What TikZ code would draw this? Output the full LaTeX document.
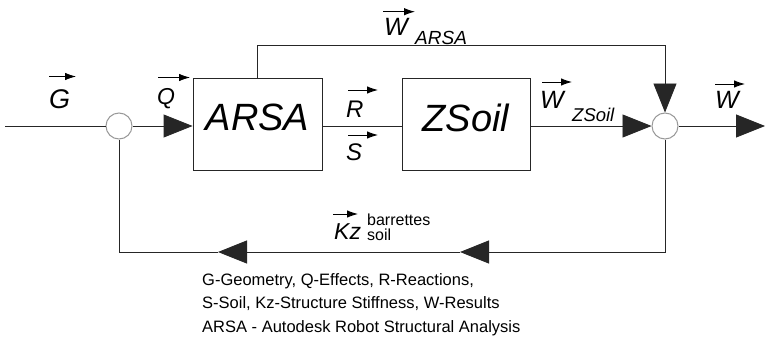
\documentclass[tikz,border=0pt]{standalone}
\usepackage{fontspec}
\setmainfont{Liberation Sans}
\usetikzlibrary{arrows.meta}
\newcommand{\fsz}[1]{\fontsize{#1}{#1}\selectfont}
\begin{document}
\begin{tikzpicture}[x=1pt,y=-1pt,
  line/.style={draw=black!85, line width=0.9pt},
  bigarrow/.style={line, -{Triangle[length=29pt,width=23pt]}},
  vec/.style={draw=black, line width=0.9pt, -{Latex[length=11pt,width=7.5pt]}},
  junction/.style={circle, draw=black!40, line width=1pt, fill=white, minimum size=26pt, inner sep=0pt},
  block/.style={draw=black!85, line width=0.9pt, minimum width=129pt, minimum height=92pt, text depth=13pt, inner sep=0pt, font=\fsz{38}\itshape},
  lbl/.style={inner sep=0pt, anchor=base west, font=\fsz{25}\itshape},
  sub/.style={inner sep=0pt, anchor=base west, font=\fsz{19}\itshape},
  small/.style={inner sep=0pt, anchor=base west, font=\fsz{16}},
  caption/.style={inner sep=0pt, anchor=base west, font=\fsz{16.5}}]

\useasboundingbox[fill=white] (0,0) rectangle (765,337);

% blocks and junctions
\node[junction] (sumL) at (119,126) {};
\node[block] (arsa) at (257.5,124) {ARSA};
\node[block, minimum width=128pt] (zsoil) at (466,124) {ZSoil};
\node[junction] (sumR) at (665,126) {};
\coordinate (in) at (5,126);
\coordinate (out) at (765,126);
\coordinate (m1) at (460,252);
\coordinate (m2) at (218,252);

% connectors
\draw[line] (in) -- (sumL.west);
\draw[bigarrow] (sumL.east) -- (sumL -| arsa.west);
\draw[line] (sumL -| arsa.east) -- (sumL -| zsoil.west);
\draw[bigarrow] (sumL -| zsoil.east) -- (sumR.west);
\draw[bigarrow] (sumR.east) -- (out);
\draw[bigarrow] (arsa.north) -- ++(0,-32) -| (sumR.north);
\draw[bigarrow] (sumR.south) |- (m1);
\draw[bigarrow] (m1) -- (m2);
\draw[line] (m2) -| (sumL.south);

% labels
\node[lbl, font=\fsz{27}\itshape] (G) at (49,108) {G};
\draw[vec] ([shift={(0,-31.5)}]G.base west) -- ++(27,0);
\node[lbl, font=\fsz{23}\itshape] (Q) at (157,104) {Q};
\draw[vec] ([shift={(1,-26.5)}]Q.base west) -- ++(32,0);
\node[lbl, font=\fsz{24}\itshape] (R) at (346,117) {R};
\draw[vec] ([shift={(2,-27)}]R.base west) -- ++(30,0);
\node[lbl, font=\fsz{24}\itshape] (S) at (346,160) {S};
\draw[vec] ([shift={(2,-25)}]S.base west) -- ++(30,0);
\node[lbl] (Wa) at (384,36) {W};
\draw[vec] ([shift={(-1,-24.3)}]Wa.base west) -- ++(32,0);
\node[sub] (Wasub) at ([shift={(31,9)}]Wa.base west) {ARSA};
\node[lbl] (Wz) at (540,108) {W};
\draw[vec] ([shift={(2,-26)}]Wz.base west) -- ++(30,0);
\node[sub, font=\fsz{18.5}\itshape] (Wzsub) at ([shift={(32,13)}]Wz.base west) {ZSoil};
\node[lbl] (W) at (715,108) {W};
\draw[vec] ([shift={(0,-24)}]W.base west) -- ++(30,0);
\node[lbl, font=\fsz{23}\itshape] (Kz) at (334,239) {Kz};
\draw[vec] ([shift={(-1,-25)}]Kz.base west) -- ++(25,0);
\node[small] (bar) at (367,225) {barrettes};
\node[small] (soil) at (367,240) {soil};

% caption
\node[caption] (cap1) at (202,285) {G-Geometry, Q-Effects, R-Reactions,};
\node[caption] (cap2) at (202,308.5) {S-Soil, Kz-Structure Stiffness, W-Results};
\node[caption] (cap3) at (202,332) {ARSA - Autodesk Robot Structural Analysis};
\end{tikzpicture}
\end{document}
